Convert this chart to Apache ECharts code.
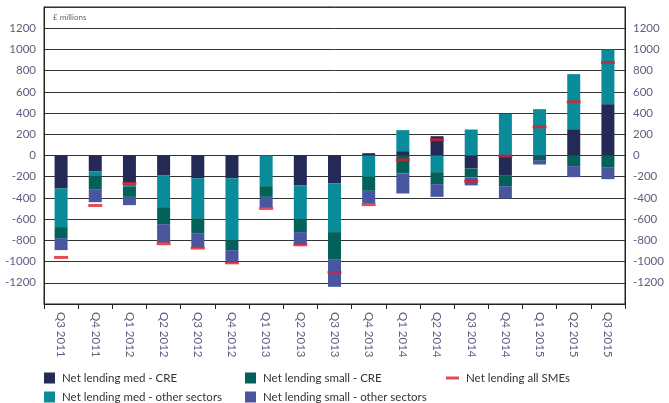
<!DOCTYPE html>
<html>
<head>
<meta charset="utf-8">
<script src="https://cdn.jsdelivr.net/npm/echarts@6/dist/echarts.min.js"></script>
<style>html,body{margin:0;padding:0;background:#fff}#c{width:669px;height:403px}</style>
</head>
<body>
<div id="c"></div>
<script>
const categories = ['Q3 2011','Q4 2011','Q1 2012','Q2 2012','Q3 2012','Q4 2012','Q1 2013','Q2 2013','Q3 2013','Q4 2013','Q1 2014','Q2 2014','Q3 2014','Q4 2014','Q1 2015','Q2 2015','Q3 2015'];
const medCRE     = [-311,-148,-263,-185,-214,-214,0,-280,-261,22,41,182,-122,-185,-13,248,484];
const medOther   = [-364,-47,-33,-302,-377,-584,-289,-320,-461,-201,198,-157,245,393,437,519,515];
const smallCRE   = [-104,-122,-94,-160,-141,-94,-101,-122,-255,-132,-169,-113,-85,-104,-37,-100,-110];
const smallOther = [-113,-123,-78,-176,-138,-120,-100,-120,-261,-119,-189,-120,-75,-116,-35,-104,-113];
const allSMEs    = [-961,-471,-263,-832,-873,-1012,-499,-842,-1103,-463,-41,148,-242,-6,270,506,876];
const yTicks = {min:-1400, max:1400, interval:200};

const FONT = 'Lato';
const labelColor = '#5c6080';
const chart = echarts.init(document.getElementById('c'));
function yAxis(pos){
  return {
    type:'value', position:pos, min:yTicks.min, max:yTicks.max, interval:yTicks.interval,
    axisLine:{show:true, lineStyle:{color:'#222', width:1}},
    axisTick:{show:false},
    axisLabel:{color:labelColor, fontFamily:FONT, fontSize:11.5, margin:8,
      formatter:v => (Math.abs(v) >= 1400 ? '' : String(v))},
    splitLine:{show:pos==='left', lineStyle:{color:'#333', width:1}}
  };
}
function leg(name, left, top, line){
  return {left:left, top:top, orient:'horizontal', padding:0,
    itemWidth: line ? 13 : 11, itemHeight: line ? 3 : 11, icon:'rect', itemGap:6,
    textStyle:{fontFamily:FONT, fontSize:11.5, color:'#333', padding:[0,0,0,2]}, data:[name]};
}
const barCommon = {type:'bar', stack:'total', barWidth:13, stackStrategy:'samesign'};
chart.setOption({
  animation:false,
  textStyle:{fontFamily:FONT},
  grid:{left:44, right:44, top:7, bottom:99, show:true, borderColor:'#222', borderWidth:1},
  graphic:[{type:'text', left:53, top:13, style:{text:'£ millions', fontFamily:FONT, fontSize:8, fill:'#666'}}],
  legend:[
    leg('Net lending med - CRE', 44, 372, false),
    leg('Net lending med - other sectors', 44, 391, false),
    leg('Net lending small - CRE', 245, 372, false),
    leg('Net lending small - other sectors', 245, 391, false),
    leg('Net lending all SMEs', 446, 372, true)
  ],
  xAxis:{
    type:'category', data:categories, position:'bottom',
    axisLine:{show:true, onZero:false, lineStyle:{color:'#222'}},
    axisTick:{show:true, alignWithLabel:false, length:5, lineStyle:{color:'#222'}},
    axisLabel:{rotate:-90, color:labelColor, fontFamily:FONT, fontSize:11.5, margin:8, interval:0}
  },
  yAxis:[yAxis('left'), yAxis('right')],
  series:[
    Object.assign({name:'Net lending med - CRE', data:medCRE, itemStyle:{color:'#232a56'}}, barCommon),
    Object.assign({name:'Net lending med - other sectors', data:medOther, itemStyle:{color:'#0a8b9a'}}, barCommon),
    Object.assign({name:'Net lending small - CRE', data:smallCRE, itemStyle:{color:'#04615a'}}, barCommon),
    Object.assign({name:'Net lending small - other sectors', data:smallOther, itemStyle:{color:'#48569f'}}, barCommon),
    {name:'Net lending all SMEs', type:'scatter', data:allSMEs, symbol:'rect', symbolSize:[14,3], z:10,
     itemStyle:{color:'#dc1f2b'}}
  ]
});
</script>
</body>
</html>
